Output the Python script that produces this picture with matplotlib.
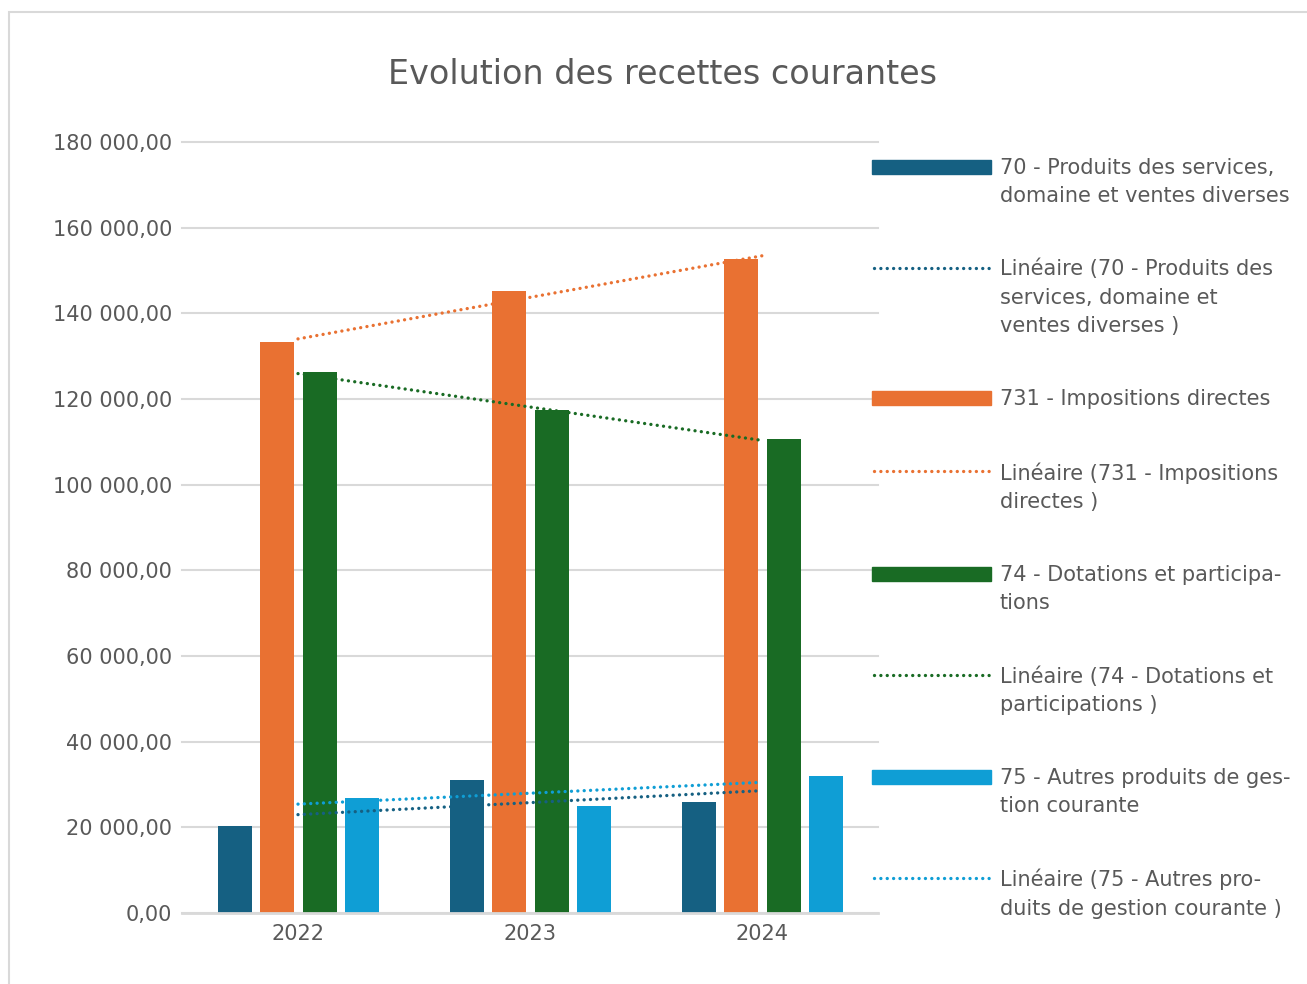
import matplotlib
matplotlib.use('Agg')
import matplotlib.pyplot as plt
import numpy as np
from matplotlib.patches import Rectangle
from matplotlib.lines import Line2D
from matplotlib.ticker import FuncFormatter

# data
years = ['2022', '2023', '2024']
produits_services = [20300, 31100, 25900]
impositions = [133300, 145200, 152700]
dotations = [126300, 117400, 110700]
autres_produits = [26900, 25000, 32000]

series_names = ['70 - Produits des services,\ndomaine et ventes diverses',
                '731 - Impositions directes',
                '74 - Dotations et participa-\ntions',
                '75 - Autres produits de ges-\ntion courante']
trend_names = ['Linéaire (70 - Produits des\nservices, domaine et\nventes diverses )',
               'Linéaire (731 - Impositions\ndirectes )',
               'Linéaire (74 - Dotations et\nparticipations )',
               'Linéaire (75 - Autres pro-\nduits de gestion courante )']
colors = ['#156082', '#E97132', '#196B24', '#0F9ED5']
txt = '#595959'

W, H = 1307, 984
fig = plt.figure(figsize=(W/100, H/100), dpi=100)
ax = fig.add_axes([182/W, 1-913/H, 696/W, 771/H])

x = np.arange(len(years))
all_series = [produits_services, impositions, dotations, autres_produits]
offsets = [-0.272, -0.09, 0.095, 0.277]
bw = 0.147
for vals, off, c in zip(all_series, offsets, colors):
    ax.bar(x + off, vals, width=bw, color=c, zorder=2)

# linear trendlines
for vals, c in zip(all_series, colors):
    k, b = np.polyfit(x, vals, 1)
    ax.plot(x, k*x + b, color=c, lw=2.4, dashes=(0.01, 1.9),
            dash_capstyle='round', zorder=3)

ax.set_xlim(-0.5, 2.5)
ax.set_ylim(0, 180000)
ax.set_yticks(np.arange(0, 180001, 20000))
ax.yaxis.set_major_formatter(FuncFormatter(
    lambda v, p: '{:,.2f}'.format(v).replace(',', ' ').replace('.', ',')))
ax.set_xticks(x)
ax.set_xticklabels(years)
ax.tick_params(axis='both', length=0, labelsize=15, labelcolor=txt)
ax.tick_params(axis='y', pad=7)
ax.tick_params(axis='x', pad=8)
ax.grid(axis='y', color='#d9d9d9', lw=1.5, zorder=0)
for gl in ax.get_ygridlines():
    gl.set_clip_on(False)
ax.set_axisbelow(True)
for s in ['top', 'right', 'left']:
    ax.spines[s].set_visible(False)
ax.spines['bottom'].set_color('#d9d9d9')
ax.spines['bottom'].set_linewidth(2)

fig.text(662/W, 1-74/H, 'Evolution des recettes courantes', ha='center',
         va='center', fontsize=24, color=txt)

# legend drawn by hand
line_y = [167, 268, 398, 471, 574, 675, 777, 878]
labels = []
for a, b in zip(series_names, trend_names):
    labels += [a, b]
for i, (lab, yy) in enumerate(zip(labels, line_y)):
    c = colors[i // 2]
    if i % 2 == 0:
        fig.patches.append(Rectangle((872/W, 1-(yy+7)/H), 119/W, 14/H,
                                     transform=fig.transFigure, color=c))
    else:
        fig.lines.append(Line2D([874/W, 991/W], [1-yy/H, 1-yy/H],
                                transform=fig.transFigure, color=c, lw=2.4,
                                dashes=(0.01, 1.9), dash_capstyle='round'))
    fig.text(1000/W, 1-(yy-9)/H, lab, ha='left', va='top', fontsize=15,
             color=txt, linespacing=1.52)

fig.patches.append(Rectangle((9/W, -0.1), 2, 1.1 - 12/H, transform=fig.transFigure,
                             fill=False, edgecolor='#d9d9d9', lw=1.5))

fig.savefig('out.png', dpi=100)
